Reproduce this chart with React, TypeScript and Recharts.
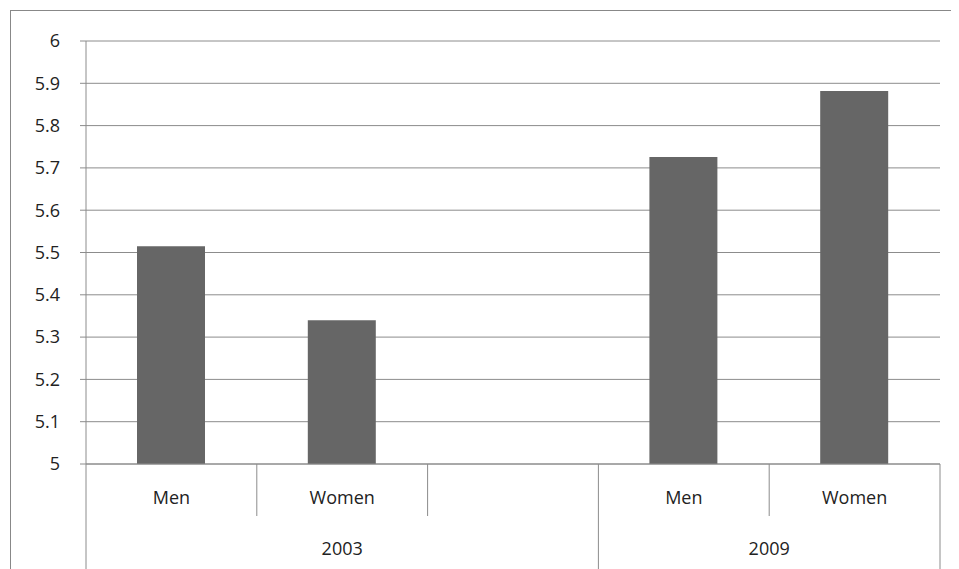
import React from 'react';
import { BarChart, Bar, XAxis, YAxis, CartesianGrid } from 'recharts';

const categories = ['Men', 'Women', '', 'Men', 'Women'];
const groups = ['2003', '2003', '2003', '2009', '2009'];
const values = [5.515, 5.34, null, 5.726, 5.882];
const yTicks = [5, 5.1, 5.2, 5.3, 5.4, 5.5, 5.6, 5.7, 5.8, 5.9, 6];

const data = categories.map((c, i) => ({ key: `${i}`, label: c, group: groups[i], value: values[i] }));

const W = 944;
const H = 560;
const M = { top: 30, right: 15, left: 0, bottom: 0 };
const Y_W = 75;
const plotW = W - M.left - M.right - Y_W;
const band = plotW / categories.length;
const FONT = '"Open Sans", "Liberation Sans", sans-serif';
const LINE = '#8c8c8c';

function CategoryTick(props: any) {
  const { x, y, index } = props;
  const cat = data[index];
  const left = x - band / 2;
  const groupStart = index === 0 || groups[index] !== groups[index - 1];
  const groupEnd = index === data.length - 1;
  // centre of the group this tick opens
  let groupCenter = 0;
  if (groupStart) {
    let n = 0;
    while (index + n < groups.length && groups[index + n] === cat.group) n++;
    groupCenter = left + (n * band) / 2;
  }
  return (
    <g>
      <line x1={left} y1={y - 8} x2={left} y2={groupStart ? y + 120 : y + 44} stroke={LINE} />
      {groupEnd && <line x1={left + band} y1={y - 8} x2={left + band} y2={y + 120} stroke={LINE} />}
      <text x={x} y={y + 27} textAnchor="middle" dominantBaseline="middle" fontSize={18} fill="#222" fontFamily={FONT}>
        {cat.label}
      </text>
      {groupStart && (
        <text x={groupCenter} y={y + 78} textAnchor="middle" dominantBaseline="middle" fontSize={18} fill="#222" fontFamily={FONT}>
          {cat.group}
        </text>
      )}
    </g>
  );
}

export default function App() {
  return (
    <div style={{ marginLeft: 2, marginTop: 2, width: W, height: 570, border: '1px solid #888', overflow: 'hidden', background: '#fff' }}>
      <BarChart width={W} height={H} data={data} margin={M} barSize={68}>
        <CartesianGrid vertical={false} stroke={LINE} />
        <XAxis
          dataKey="key"
          axisLine={{ stroke: LINE }}
          tickLine={false}
          interval={0}
          height={107}
          tick={<CategoryTick />}
        />
        <YAxis
          width={Y_W}
          domain={[5, 6]}
          ticks={yTicks}
          interval={0}
          axisLine={{ stroke: LINE }}
          tickLine={{ stroke: LINE }}
          tickSize={6}
          tickMargin={20}
          tickFormatter={(v: number) => `${Math.round(v * 10) / 10}`}
          tick={{ fontSize: 18, fill: '#222', fontFamily: FONT }}
        />
        <Bar dataKey="value" fill="#666666" isAnimationActive={false} />
      </BarChart>
    </div>
  );
}
